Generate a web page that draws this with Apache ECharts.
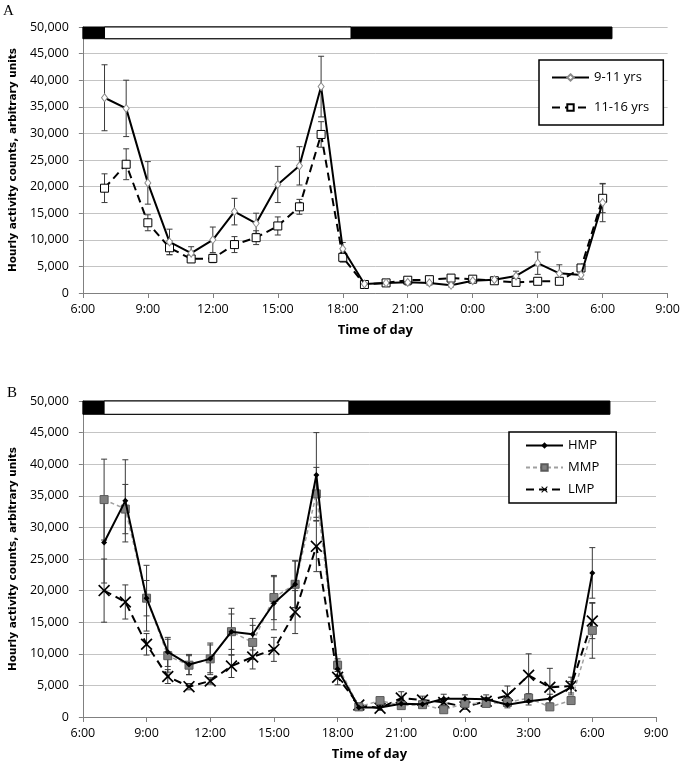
<!DOCTYPE html>
<html>
<head>
<meta charset="utf-8">
<script src="https://cdn.jsdelivr.net/npm/echarts@6/dist/echarts.min.js"></script>
<style>
html,body{margin:0;padding:0;background:#fff;}
#chart{width:683px;height:767px;}
</style>
</head>
<body>
<div id="chart"></div>
<script>
// ---- data ----
var hours = [7,8,9,10,11,12,13,14,15,16,17,18,19,20,21,22,23,24,25,26,27,28,29,30];
var xTickLabels = ['6:00','9:00','12:00','15:00','18:00','21:00','0:00','3:00','6:00','9:00'];

// Panel A
var age911    = [36700,34700,20700,9600,7500,10000,15300,13100,20400,23900,38800,8300,1700,1900,2000,1900,1450,2300,2500,3200,5600,3700,3400,17000];
var age911Err = [6200,5300,4000,2400,1200,2400,2500,1900,3400,3600,5700,1200,300,400,500,400,300,400,400,900,2100,1600,800,3600];
var age1116    = [19700,24200,13200,8500,6400,6500,9100,10400,12600,16200,29800,6700,1600,1900,2400,2500,2800,2600,2300,2000,2200,2200,4700,17800];
var age1116Err = [2700,2900,1500,1300,600,800,1500,1300,1700,1400,2400,900,300,300,400,400,400,300,300,300,300,300,600,2700];

// Panel B
var hmp    = [27600,34200,18800,10300,8300,9200,13500,13100,18000,21000,38300,7600,1500,1500,2100,2000,2900,2900,2800,1950,2500,2900,4700,22800];
var hmpErr = [6400,6500,5200,2300,1600,2500,3700,2500,4200,3700,6700,1200,400,400,500,500,700,600,700,500,600,700,900,4000];
var mmp    = [34400,32900,18800,9700,8200,9200,13500,11800,18900,21000,35300,8200,1600,2600,1800,1950,1150,2150,2150,2300,3000,1600,2600,13700];
var mmpErr = [6400,3900,2800,2600,1500,2200,2800,2700,3500,3700,4200,1000,400,500,400,400,300,500,400,500,700,300,500,4400];
var lmp    = [20000,18200,11500,6400,4800,5700,8050,9500,10700,16600,27000,6300,1900,1400,3000,2700,2300,1600,2500,3400,6600,4700,4900,15200];
var lmpErr = [5000,2700,1700,1100,500,500,1800,1900,1900,3400,4000,1200,300,300,1000,600,500,400,600,1500,3400,3000,1400,2800];

// light/dark phases: [start hour, end hour, isLight]
var phasesA = [[6,30.43,0],[7,18.38,1]];
var phasesB = [[6,30.83,0],[7,18.53,1]];
var phaseTop = 50000, phaseBottomA = 47800, phaseBottomB = 47900;

// ---- helpers ----
function pairs(vals){ return hours.map(function(h,i){ return [h, vals[i]]; }); }
function errData(vals, errs){ return hours.map(function(h,i){ return [h, vals[i], errs[i]]; }); }

var FONT = '"Open Sans", "Noto Sans", sans-serif';
var LABEL_FONT = '"DejaVu Sans", Verdana, sans-serif';

function errSeries(name, data, gi){
  return {
    type:'custom', name:name+'_err', xAxisIndex:gi, yAxisIndex:gi, data:data, z:2,
    encode:{x:0,y:1}, silent:true,
    renderItem:function(params, api){
      var x = api.value(0), y = api.value(1), e = api.value(2);
      var t = api.coord([x, y+e]), b = api.coord([x, y-e]);
      var cw = 3;
      var st = {stroke:'#3a3a3a', lineWidth:1};
      return {type:'group', children:[
        {type:'line', shape:{x1:t[0],y1:t[1],x2:b[0],y2:b[1]}, style:st},
        {type:'line', shape:{x1:t[0]-cw,y1:t[1],x2:t[0]+cw,y2:t[1]}, style:st},
        {type:'line', shape:{x1:b[0]-cw,y1:b[1],x2:b[0]+cw,y2:b[1]}, style:st}
      ]};
    }
  };
}
function phaseSeries(data, gi, bottom){
  return {
    type:'custom', xAxisIndex:gi, yAxisIndex:gi, data:data, z:1, silent:true,
    encode:{x:[0,1]},
    renderItem:function(params, api){
      var p0 = api.coord([api.value(0), phaseTop]);
      var p1 = api.coord([api.value(1), bottom]);
      var light = api.value(2) === 1;
      return {type:'rect', shape:{x:p0[0], y:p0[1], width:p1[0]-p0[0], height:p1[1]-p0[1]},
        style:{fill: light ? '#fff' : '#000', stroke:'#000', lineWidth:1}};
    }
  };
}

function xAxis(gi){
  return {
    type:'value', gridIndex:gi, min:6, max:33, interval:3,
    name:'Time of day', nameLocation:'middle', nameGap:31,
    nameTextStyle:{fontFamily:FONT, fontWeight:'bold', fontSize:13, color:'#000'},
    axisLine:{show:true, onZero:false, lineStyle:{color:'#808080', width:1}},
    axisTick:{show:true, length:5, lineStyle:{color:'#808080'}},
    axisLabel:{margin:10, fontFamily:FONT, fontSize:12.5, color:'#000',
      formatter:function(v){ return xTickLabels[Math.round((v-6)/3)]; }},
    splitLine:{show:false}
  };
}
function yAxis(gi){
  return {
    type:'value', gridIndex:gi, min:0, max:50000, interval:5000,
    name:'Hourly activity counts, arbitrary units', nameLocation:'middle', nameGap:53, nameRotate:90,
    nameTextStyle:{fontFamily:LABEL_FONT, fontWeight:'bold', fontSize:10.5, color:'#000'},
    axisLine:{show:true, lineStyle:{color:'#808080', width:1}},
    axisTick:{show:true, length:4, lineStyle:{color:'#808080'}},
    axisLabel:{margin:14, fontFamily:FONT, fontSize:12.5, color:'#000',
      formatter:function(v){ return v.toLocaleString('en-US'); }},
    splitLine:{show:true, lineStyle:{color:'#c4c4c4', width:1}}
  };
}

var chart = echarts.init(document.getElementById('chart'), null, {renderer:'canvas'});
chart.setOption({
  animation:false,
  backgroundColor:'#fff',
  graphic:[
    {type:'text', left:3, top:4, style:{text:'A', fontFamily:'"Liberation Serif", "DejaVu Serif", serif', fontSize:15, fill:'#000'}},
    {type:'text', left:7, top:386, style:{text:'B', fontFamily:'"Liberation Serif", "DejaVu Serif", serif', fontSize:15, fill:'#000'}}
  ],
  grid:[
    {left:80, top:27, width:589, height:266},
    {left:81, top:401, width:575, height:316}
  ],
  xAxis:[xAxis(0), xAxis(1)],
  yAxis:[yAxis(0), yAxis(1)],
  legend:[
    {left:539, top:60, orient:'vertical', data:['9-11 yrs','11-16 yrs'],
     itemWidth:37, itemHeight:8, itemGap:17, padding:[11,14,11,12],
     borderColor:'#000', borderWidth:1.5, backgroundColor:'#fff', selectedMode:false,
     textStyle:{fontFamily:FONT, fontSize:13, color:'#000'}},
    {left:509, top:432, orient:'vertical', data:['HMP','MMP','LMP'],
     itemWidth:37, itemHeight:8, itemGap:9, padding:[7,17,7,16],
     borderColor:'#000', borderWidth:1.5, backgroundColor:'#fff', selectedMode:false,
     textStyle:{fontFamily:FONT, fontSize:13, color:'#000'}}
  ],
  series:[
    phaseSeries(phasesA, 0, phaseBottomA),
    phaseSeries(phasesB, 1, phaseBottomB),
    errSeries('9-11 yrs', errData(age911, age911Err), 0),
    errSeries('11-16 yrs', errData(age1116, age1116Err), 0),
    errSeries('HMP', errData(hmp, hmpErr), 1),
    errSeries('MMP', errData(mmp, mmpErr), 1),
    errSeries('LMP', errData(lmp, lmpErr), 1),
    {name:'11-16 yrs', type:'line', xAxisIndex:0, yAxisIndex:0, data:pairs(age1116), z:3,
     symbol:'rect', symbolSize:8,
     itemStyle:{color:'#fff', borderColor:'#000', borderWidth:1},
     lineStyle:{color:'#000', width:2, type:[8,5]}},
    {name:'9-11 yrs', type:'line', xAxisIndex:0, yAxisIndex:0, data:pairs(age911), z:4,
     symbol:'diamond', symbolSize:[6,8],
     itemStyle:{color:'#fff', borderColor:'#8a8a8a', borderWidth:1},
     lineStyle:{color:'#000', width:2, type:'solid'}},
    {name:'LMP', type:'line', xAxisIndex:1, yAxisIndex:1, data:pairs(lmp), z:3,
     symbol:'path://M0,1 L1,0 L5,4 L9,0 L10,1 L6,5 L10,9 L9,10 L5,6 L1,10 L0,9 L4,5 Z', symbolSize:12,
     itemStyle:{color:'#000'},
     lineStyle:{color:'#000', width:2, type:[8,5]}},
    {name:'MMP', type:'line', xAxisIndex:1, yAxisIndex:1, data:pairs(mmp), z:4,
     symbol:'rect', symbolSize:8,
     itemStyle:{color:'#808080', borderColor:'#5a5a5a', borderWidth:1},
     lineStyle:{color:'#a0a0a0', width:1.5, type:[4,3]}},
    {name:'HMP', type:'line', xAxisIndex:1, yAxisIndex:1, data:pairs(hmp), z:5,
     symbol:'diamond', symbolSize:6,
     itemStyle:{color:'#000'},
     lineStyle:{color:'#000', width:2, type:'solid'}}
  ]
});
</script>
</body>
</html>
